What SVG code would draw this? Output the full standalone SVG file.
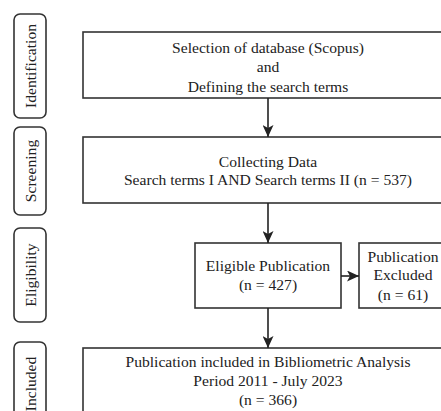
<svg xmlns="http://www.w3.org/2000/svg" width="441" height="411" viewBox="0 0 441 411">
<style>
.b{fill:#fff;stroke:#333;stroke-width:1.6}
.s{fill:#fff;stroke:#333;stroke-width:1.6}
text{font-family:"Liberation Serif","Times New Roman",serif;font-size:15.6px;fill:#222;text-anchor:middle}
.c{stroke:#222;stroke-width:1.6;fill:none;marker-end:url(#ah)}
</style>
<defs>
<marker id="ah" viewBox="0 0 12 11" refX="12" refY="5.5" markerWidth="12" markerHeight="11" markerUnits="userSpaceOnUse" orient="auto">
<path d="M0,0 L12,5.5 L0,11 L3,5.5 z" fill="#222"/>
</marker>
</defs>
<rect width="441" height="411" fill="#fff"/>
<g id="stage-identification"><rect class="s" x="14" y="14" width="32" height="104" rx="6"/><text transform="translate(35.5,66) rotate(-90)">Identification</text></g>
<g id="stage-screening"><rect class="s" x="14" y="127" width="32" height="88" rx="6"/><text transform="translate(35.5,171) rotate(-90)">Screening</text></g>
<g id="stage-eligibility"><rect class="s" x="14" y="228" width="32" height="94" rx="6"/><text transform="translate(35.5,275) rotate(-90)">Eligibility</text></g>
<g id="stage-included"><rect class="s" x="14" y="342" width="32" height="80" rx="6"/><text transform="translate(35.5,384) rotate(-90)">Included</text></g>
<g id="n1"><rect class="b" x="83" y="32" width="370" height="66"/><text x="268" y="53">Selection of database (Scopus)</text><text x="268" y="72">and</text><text x="268" y="92">Defining the search terms</text></g>
<g id="n2"><rect class="b" x="83" y="137" width="370" height="66"/><text x="268" y="167">Collecting Data</text><text x="268" y="185">Search terms I AND Search terms II (n = 537)</text></g>
<g id="n3"><rect class="b" x="195" y="243" width="146" height="65"/><text x="268" y="271">Eligible Publication</text><text x="268" y="290">(n = 427)</text></g>
<g id="n4"><rect class="b" x="359" y="243" width="100" height="65"/><text x="403" y="262">Publication</text><text x="403" y="280">Excluded</text><text x="403" y="300">(n = 61)</text></g>
<g id="n5"><rect class="b" x="83" y="348" width="370" height="80"/><text x="268" y="367">Publication included in Bibliometric Analysis</text><text x="268" y="386">Period 2011 - July 2023</text><text x="268" y="405">(n = 366)</text></g>
<g id="connectors">
<line class="c" x1="268" y1="98" x2="268" y2="137"/>
<line class="c" x1="268" y1="203" x2="268" y2="243"/>
<line class="c" x1="341" y1="276" x2="359" y2="276"/>
<line class="c" x1="268" y1="308" x2="268" y2="348"/>
</g>
</svg>
